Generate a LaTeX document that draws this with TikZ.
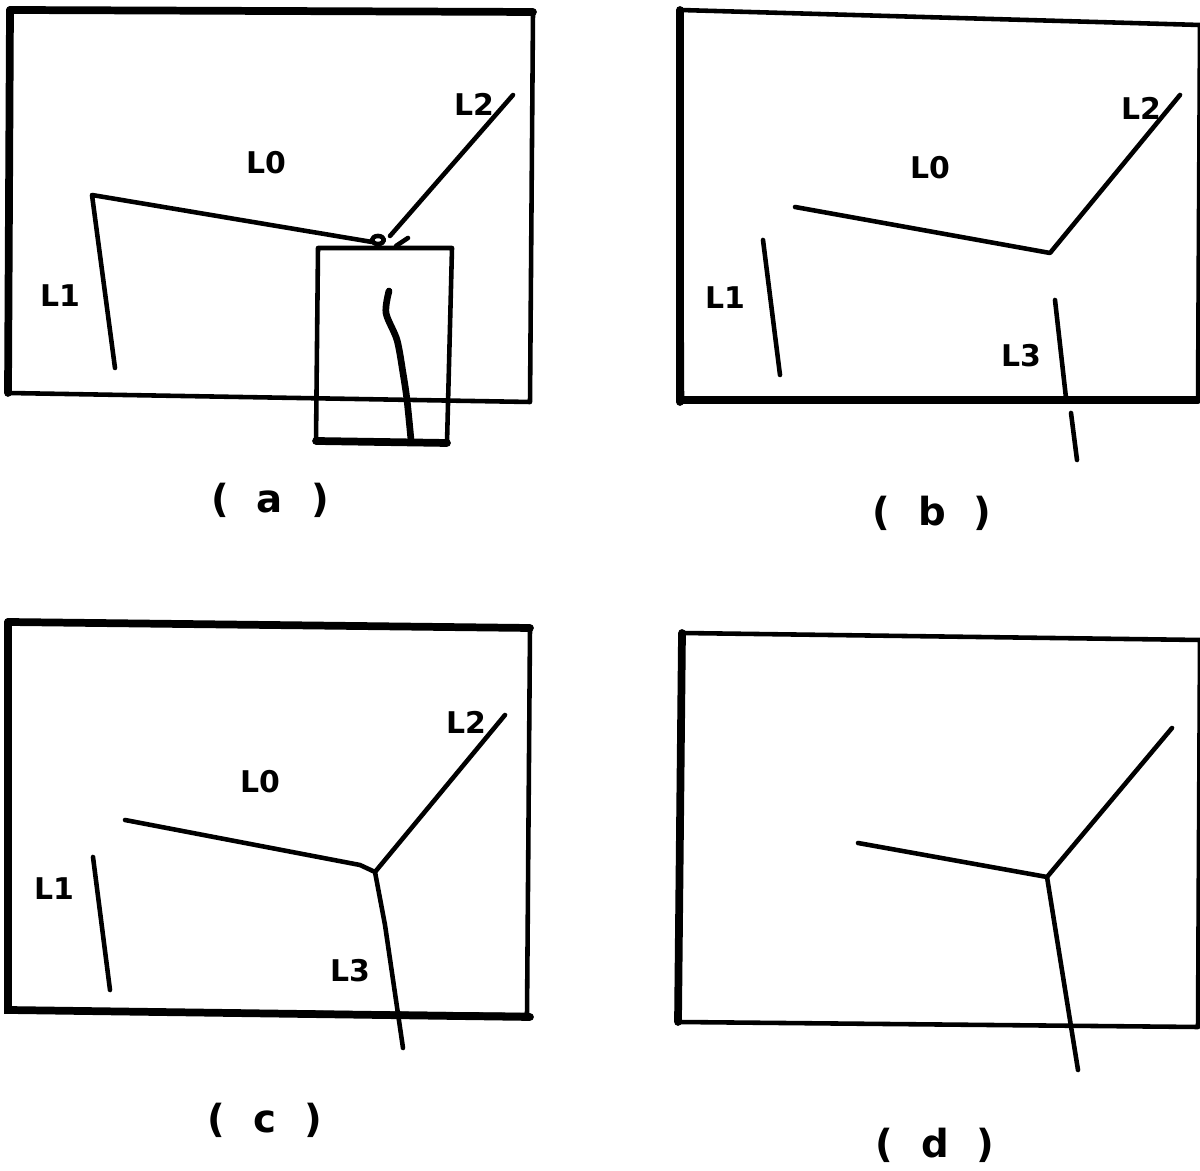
\documentclass[tikz,border=0pt]{standalone}
\usepackage{fontspec}
\setsansfont{DejaVu Sans}
\usetikzlibrary{calc}
\tikzset{
  frame/.style={draw=black,line width=1.3pt,line join=round},
  heavyside/.style={draw=black,line width=2.2pt,line cap=round},
  seg/.style={draw=black,line width=1.3pt,line cap=round,line join=round},
  scribble/.style={draw=black,line width=1.9pt,line cap=round,line join=round},
  tag/.style={font=\sffamily\bfseries\fontsize{8.5}{8.5}\selectfont,inner sep=0pt},
  caption/.style={font=\sffamily\bfseries\fontsize{11}{11}\selectfont,inner sep=0pt}
}
\newcommand{\capt}[1]{(\hspace{8pt}#1\hspace{8pt})}

\begin{document}
\begin{tikzpicture}[x=0.01cm,y=-0.01cm]
  \useasboundingbox (0,0) rectangle (1200,1171);

  % (a) raw edges with the search window
  \draw[frame] (10,10) -- (533,12) -- (530,402) -- (8,393) -- cycle;
  \draw[heavyside] (10,10) -- (8,393);
  \draw[heavyside] (10,10) -- (533,12);
  \coordinate (a-l1) at (115,368);
  \coordinate (a-k) at (92,195);
  \coordinate (a-j) at (372,242);
  \coordinate (a-l2) at (513,95);
  \draw[seg] (a-l1) -- (a-k) -- (a-j);
  \draw[seg] (a-l2) -- (390,236);
  \draw[seg] (378,240) ellipse (6 and 4);
  \draw[seg] (408,238) -- (396,246);
  \draw[frame] (318,248) -- (452,248) -- (447,443) -- (316,441) -- cycle;
  \draw[heavyside] (316,441) -- (447,443);
  \draw[scribble] plot[smooth] coordinates
    {(389,291) (386,313) (397,340) (403,373) (407,400) (411,440)};
  \node[tag] (a-L0) at (266,163) {L0};
  \node[tag] (a-L1) at (60,296) {L1};
  \node[tag] (a-L2) at (474,104) {L2};
  \node[caption] (a-cap) at (270,500) {\capt{a}};

  % (b) after the first pass
  \draw[frame] (680,10) -- (1200,25) -- (1198,400) -- (682,400) -- cycle;
  \draw[heavyside] (680,10) -- (680,402);
  \draw[heavyside] (682,400) -- (1198,400);
  \coordinate (b-j) at (1050,253);
  \draw[seg] (795,207) -- (b-j) -- (1180,95);
  \draw[seg] (763,240) -- (780,375);
  \draw[seg] (1055,300) -- (1066,398);
  \draw[seg] (1071,413) -- (1077,460);
  \node[tag] (b-L0) at (930,168) {L0};
  \node[tag] (b-L1) at (725,298) {L1};
  \node[tag] (b-L2) at (1141,108) {L2};
  \node[tag] (b-L3) at (1021,356) {L3};
  \node[caption] (b-cap) at (932,513) {\capt{b}};

  % (c) vertex joined
  \draw[frame] (8,622) -- (530,628) -- (527,1015) -- (8,1010) -- cycle;
  \draw[heavyside] (8,622) -- (8,1010) -- (530,1017);
  \draw[heavyside] (8,622) -- (530,628);
  \coordinate (c-j) at (375,872);
  \draw[seg] (125,820) -- (360,865) -- (c-j) -- (505,715);
  \draw[seg] (c-j) -- (385,925) -- (403,1048);
  \draw[seg] (93,857) -- (110,990);
  \node[tag] (c-L0) at (260,782) {L0};
  \node[tag] (c-L1) at (54,889) {L1};
  \node[tag] (c-L2) at (466,722) {L2};
  \node[tag] (c-L3) at (350,971) {L3};
  \node[caption] (c-cap) at (265,1120) {\capt{c}};

  % (d) final line drawing
  \draw[frame] (682,633) -- (1200,640) -- (1198,1027) -- (678,1022) -- cycle;
  \draw[heavyside] (682,633) -- (678,1022);
  \coordinate (d-j) at (1047,877);
  \draw[seg] (858,843) -- (d-j) -- (1172,728);
  \draw[seg] (d-j) -- (1078,1070);
  \node[caption] (d-cap) at (935,1145) {\capt{d}};
\end{tikzpicture}
\end{document}
